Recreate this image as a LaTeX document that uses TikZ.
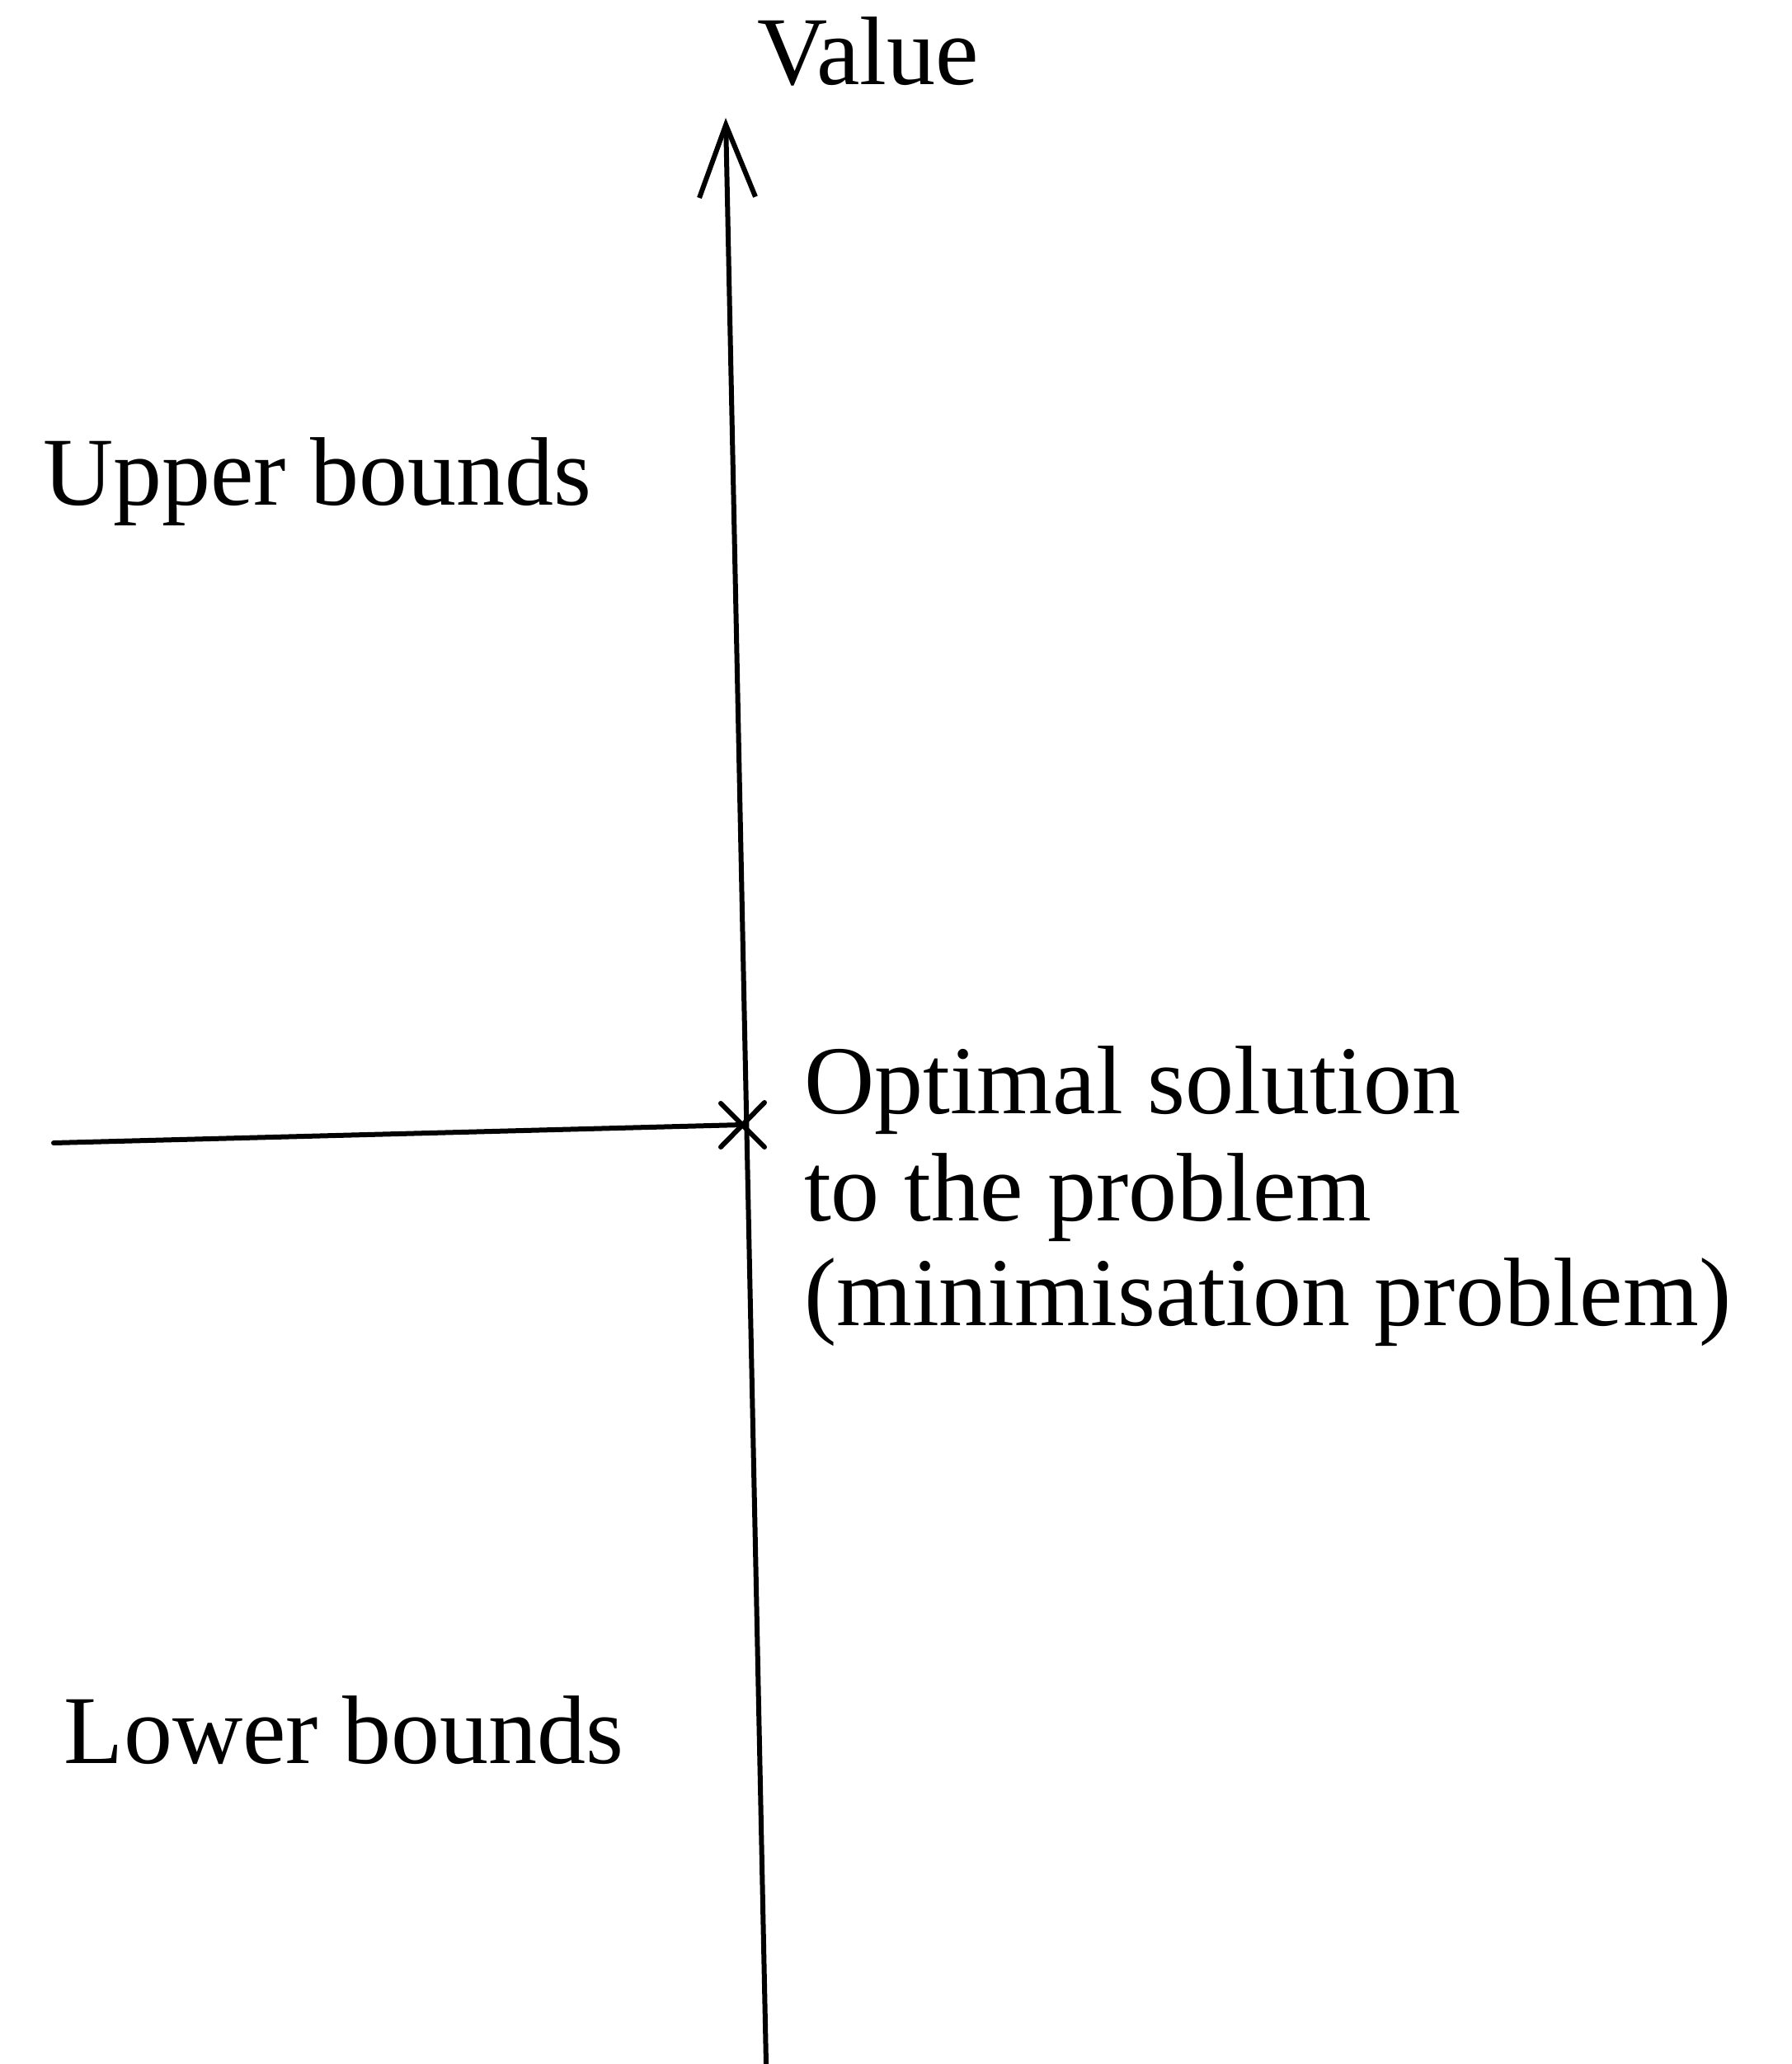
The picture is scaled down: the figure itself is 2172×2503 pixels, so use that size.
\documentclass[tikz,border=0pt]{standalone}
\usepackage{fontspec}
\setmainfont{Liberation Serif}
\usetikzlibrary{arrows.meta,calc}
\begin{document}
\begin{tikzpicture}[x=0.25pt,y=-0.25pt,
  lbl/.style={inner sep=0pt,outer sep=0pt,anchor=base west,font=\fontsize{29.5}{32}\selectfont},
  axisline/.style={line width=1.5pt,line cap=round},
  axisarrow/.style={axisline,-{Straight Barb[length=22pt,width=17pt,line width=1.5pt]}}]
\useasboundingbox (0,0) rectangle (2172,2503);
% points
\coordinate (bottom) at (929,2503);
\coordinate (top) at (880,143);
\coordinate (opt) at (900,1364);
\coordinate (left) at (65,1386);
% axis
\draw[axisarrow] (bottom) -- (top);
\draw[axisline] (left) -- (opt);
% cross mark
\draw[axisline] ($(opt)+(-26,-26)$) -- ($(opt)+(27,27)$);
\draw[axisline] ($(opt)+(27,-27)$) -- ($(opt)+(-26,27)$);
% labels
\node[lbl] (value) at (918,103) {Value};
\node[lbl] (upper) at (52,612) {Upper bounds};
\node[lbl] (lower) at (78,2138) {Lower bounds};
\node[lbl] (opt1) at (975,1350) {Optimal solution};
\node[lbl] (opt2) at (975,1480) {to the problem};
\node[lbl] (opt3) at (975,1607) {(minimisation problem)};
\end{tikzpicture}
\end{document}
